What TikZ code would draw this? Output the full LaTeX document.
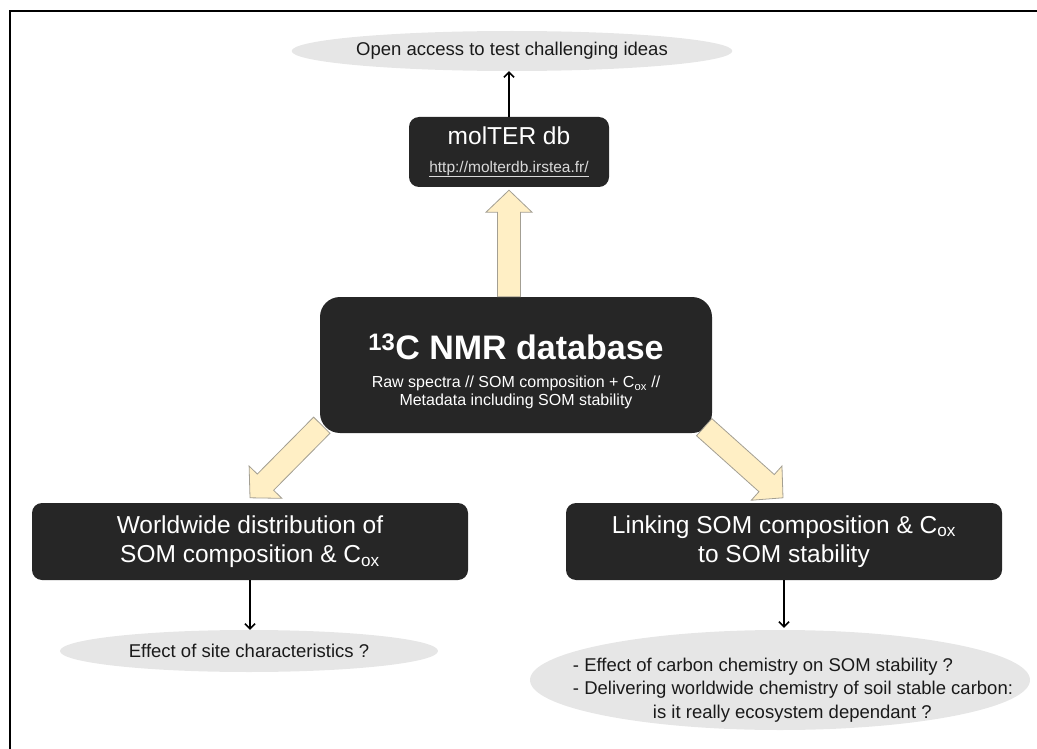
\documentclass[tikz,border=0pt]{standalone}
\usepackage{fontspec}
\setmainfont{Liberation Sans}
\usepackage{tikz}
\usetikzlibrary{arrows.meta,positioning,calc,shapes.geometric,backgrounds}
\definecolor{BoxDark}{HTML}{262626}
\definecolor{BubbleGrey}{HTML}{E6E6E6}
\definecolor{ArrowCream}{HTML}{FFEFC5}
\definecolor{ArrowEdge}{HTML}{A39F93}
\definecolor{UrlGrey}{HTML}{D9D9D9}
\definecolor{InkDark}{HTML}{1A1A1A}

\begin{document}
\begin{tikzpicture}[
    x=1pt, y=-1pt,
    darkbox/.style={
      fill=BoxDark,
      draw=none,
      text=white,
      rounded corners=10pt,
      align=center,
      font=\fontsize{24.5}{29.5}\selectfont
    },
    bubble/.style={
      ellipse,
      fill=BubbleGrey,
      draw=none,
      text=InkDark,
      inner sep=0pt,
      font=\fontsize{18.5}{23.5}\selectfont
    },
    arr/.style={
      -{Straight Barb[length=5pt,width=10pt]},
      line width=1.5pt,
      color=black
    },
    fatarr/.style={
      fill=ArrowCream,
      draw=ArrowEdge,
      line width=0.8pt,
      line join=miter,
      to path={
        ($(\tikztostart)!11.5pt!90:(\tikztotarget)$)
        -- ($(\tikztotarget)!22pt!(\tikztostart)!11.5pt!-90:(\tikztostart)$)
        -- ($(\tikztotarget)!22pt!(\tikztostart)!23pt!-90:(\tikztostart)$)
        -- (\tikztotarget)
        -- ($(\tikztotarget)!22pt!(\tikztostart)!23pt!90:(\tikztostart)$)
        -- ($(\tikztotarget)!22pt!(\tikztostart)!11.5pt!90:(\tikztostart)$)
        -- ($(\tikztostart)!11.5pt!-90:(\tikztotarget)$)
        -- cycle
      }
    }
  ]
  \useasboundingbox (0,0) rectangle (1037,749);

  % Frame
  \draw[line width=2.5pt] (10,749) -- (10,11) -- (1037,11);

  % Open access
  \node[bubble, minimum width=382pt, minimum height=40pt] (openacc) at (512,51)
    {Open access to test challenging ideas};

  % molTER db
  \node[darkbox, minimum width=200pt, minimum height=70pt] (molter) at (509,152)
    {molTER db\\[-2pt]\fontsize{15.5}{18}\selectfont\color{UrlGrey}\underline{http://molterdb.irstea.fr/}};

  % NMR database
  \node[darkbox, rounded corners=20pt, minimum width=392pt, minimum height=136pt,
        font=\fontsize{16}{17.5}\selectfont] (nmr) at (516,365)
    {{\rule{0pt}{38pt}\bfseries\fontsize{34}{34}\selectfont\textsuperscript{13}C NMR database}\\[11pt]
     Raw spectra // SOM composition + C\textsubscript{ox} //\\
     Metadata including SOM stability};

  % Two studies
  \node[darkbox, minimum width=436pt, minimum height=77pt] (world) at (250,541.5)
    {Worldwide distribution of\\SOM composition \& C\textsubscript{ox}};
  \node[darkbox, minimum width=436pt, minimum height=77pt] (linking) at (784,541.5)
    {Linking SOM composition \& C\textsubscript{ox}\\to SOM stability};

  % Questions
  \node[bubble, minimum width=378pt, minimum height=42pt] (site) at (249,651)
    {Effect of site characteristics ?};
  \node[bubble, minimum width=500pt, minimum height=100pt] (effect) at (780,680) {};
  \node[text=InkDark, align=left, font=\fontsize{18.5}{23.5}\selectfont] (effecttxt) at (793,690)
    {- Effect of carbon chemistry on SOM stability ?\\
     - Delivering worldwide chemistry of soil stable carbon:\\
     \hspace*{80pt}is it really ecosystem dependant ?};

  % Block arrows
  \coordinate (uptail) at (molter.south |- nmr.north);
  \coordinate (uptip) at ($(molter.south)+(0,3)$);
  \coordinate (ltail) at ($(nmr.south west)+(2,-8)$);
  \coordinate (ltip) at ($(world.north)+(0,-5)$);
  \coordinate (rtail) at ($(nmr.south east)+(-8,-6)$);
  \coordinate (rtip) at ($(linking.north)+(-1,-5)$);
  \draw[fatarr] (uptail) to (uptip);
  \draw[fatarr] (ltail) to (ltip);
  \draw[fatarr] (rtail) to (rtip);

  % Thin arrows
  \draw[arr] (molter.north) -- (molter.north |- openacc.south);
  \draw[arr] (world.south) -- (world.south |- site.north);
  \draw[arr] (linking.south) -- ($(linking.south |- effect.north)+(0,-2)$);
\end{tikzpicture}
\end{document}
